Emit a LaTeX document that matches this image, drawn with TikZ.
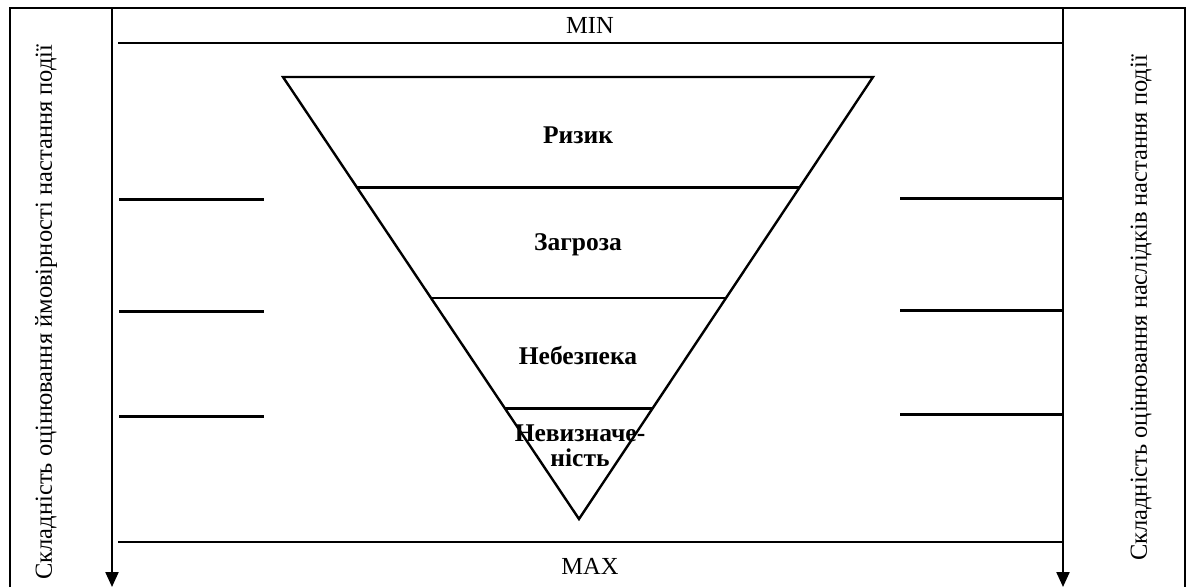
\documentclass[tikz,border=0pt]{standalone}
\usepackage{fontspec}
\setmainfont{Liberation Serif}
\usetikzlibrary{calc,arrows.meta}
\begin{document}
\begin{tikzpicture}[x=1pt,y=-1pt,
  frame/.style={line width=2pt},
  ln/.style={line width=2.4pt},
  bar/.style={line width=3pt},
  axis/.style={line width=2.2pt,-{Triangle[length=15pt,width=13pt]}},
  lbl/.style={font=\fontsize{25.5}{25}\selectfont\bfseries,align=center,inner sep=0pt},
  side/.style={font=\fontsize{24.5}{26}\selectfont,rotate=90,inner sep=0pt},
  mm/.style={font=\fontsize{24.5}{26}\selectfont,inner sep=0pt}]
\useasboundingbox (0,0) rectangle (1188,587);
% frame
\coordinate (fl) at (10,587);
\coordinate (ftl) at (10,8);
\coordinate (ftr) at (1185,8);
\coordinate (fr) at (1185,587);
\draw[frame] (fl) -- (ftl) -- (ftr) -- (fr);
% axes
\coordinate (la0) at (112,8);
\coordinate (la1) at (112,587);
\coordinate (ra0) at (1063,8);
\coordinate (ra1) at (1063,587);
\draw[axis] (la0) -- (la1);
\draw[axis] (ra0) -- (ra1);
% MIN / MAX lines
\coordinate (min0) at (118,43);
\coordinate (min1) at (1063,43);
\coordinate (max0) at (118,542);
\coordinate (max1) at (1063,542);
\draw[ln] (min0) -- (min1);
\draw[ln] (max0) -- (max1);
\node[mm] (tmin) at (590,25) {MIN};
\node[mm] (tmax) at (590,566) {MAX};
% side texts
\node[side] (tl) at (46,312) {Складність оцінювання ймовірності настання події};
\node[side] (tr) at (1141,308) {Складність оцінювання наслідків настання події};
% triangle
\coordinate (A) at (283,77);
\coordinate (B) at (873,77);
\coordinate (C) at (579,519);
\draw[ln,line join=miter] (A) -- (B) -- (C) -- cycle;
\foreach \t in {0.25,0.5,0.75}{
  \draw[ln] ($(A)!\t!(C)$) -- ($(B)!\t!(C)$);
}
\node[lbl] (r) at (578,135) {Ризик};
\node[lbl] (z) at (578,245) {Загроза};
\node[lbl] (n) at (578,355) {Небезпека};
\node[lbl] (u) at (580,446) {Невизначе-\\ність};
% side bars
\coordinate (lb1a) at (119,199); \coordinate (lb1b) at (264,199);
\coordinate (lb2a) at (119,311); \coordinate (lb2b) at (264,311);
\coordinate (lb3a) at (119,416); \coordinate (lb3b) at (264,416);
\coordinate (rb1a) at (900,198); \coordinate (rb1b) at (1062,198);
\coordinate (rb2a) at (900,310); \coordinate (rb2b) at (1062,310);
\coordinate (rb3a) at (900,414); \coordinate (rb3b) at (1062,414);
\draw[bar] (lb1a) -- (lb1b);
\draw[bar] (lb2a) -- (lb2b);
\draw[bar] (lb3a) -- (lb3b);
\draw[bar] (rb1a) -- (rb1b);
\draw[bar] (rb2a) -- (rb2b);
\draw[bar] (rb3a) -- (rb3b);
\end{tikzpicture}
\end{document}
